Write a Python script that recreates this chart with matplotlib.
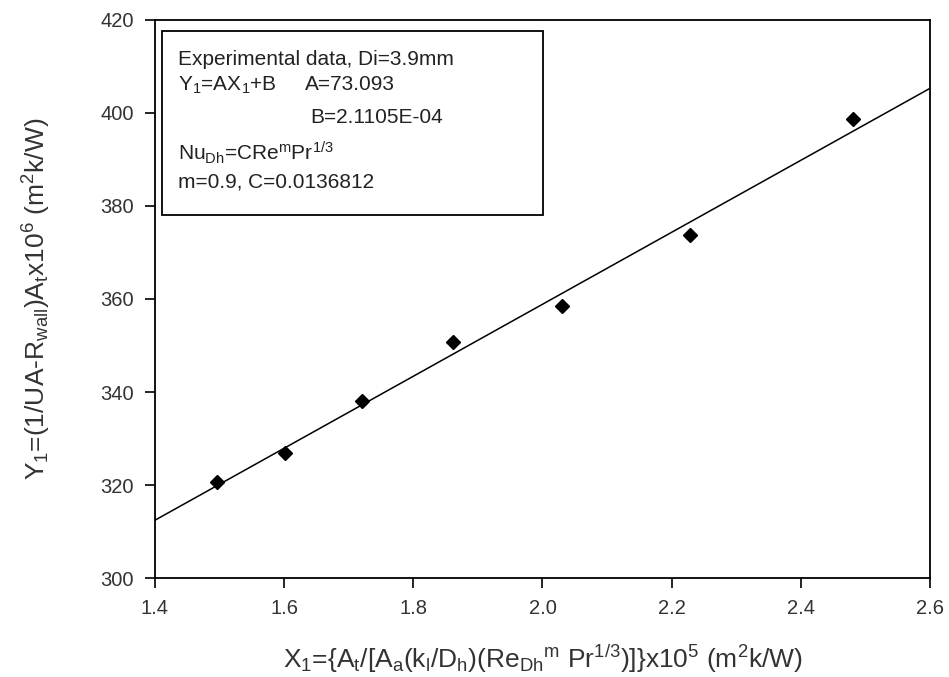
import numpy as np
import matplotlib
matplotlib.use("Agg")
import matplotlib.pyplot as plt
from matplotlib.patches import Rectangle

plt.rcParams['font.family'] = ['Liberation Sans', 'DejaVu Sans']
plt.rcParams['mathtext.fontset'] = 'custom'
plt.rcParams['mathtext.rm'] = 'Liberation Sans'
plt.rcParams['mathtext.it'] = 'Liberation Sans'
plt.rcParams['mathtext.default'] = 'regular'

# experimental points
x1 = [1.496, 1.601, 1.721, 1.862, 2.030, 2.229, 2.480]
y1 = [320.7, 326.8, 338.0, 350.7, 358.6, 373.7, 398.6]

xticks = [1.4, 1.6, 1.8, 2.0, 2.2, 2.4, 2.6]
yticks = [300, 320, 340, 360, 380, 400, 420]

box_lines = [
    "Experimental data, Di=3.9mm",
    "Y$_1$=AX$_1$+B",
    "",
    "Nu$_{Dh}$=CRe$^m$Pr$^{1/3}$",
    "m=0.9, C=0.0136812",
]
coef_lines = ["A=73.093", "B=2.1105E-04"]

fig = plt.figure(figsize=(9.49, 6.77), dpi=100)
ax = fig.add_axes([0.1633, 0.1462, 0.8167, 0.8243])

# linear regression line over the full x range
k, b = np.polyfit(x1, y1, 1)
xl = np.array([xticks[0], xticks[-1]])
ax.plot(xl, k * xl + b, color='black', lw=1.1)
ax.plot(x1, y1, 'D', color='black', ms=7.5, mec='black')

ax.set_xlim(xticks[0], xticks[-1])
ax.set_ylim(yticks[0], yticks[-1])
ax.set_xticks(xticks)
ax.set_xticklabels([f"{v:.1f}" for v in xticks])
ax.set_yticks(yticks)
ax.tick_params(direction='out', length=7, width=1.2, labelsize=14.5, pad=8,
               colors='black', labelcolor='#333333')
for s in ax.spines.values():
    s.set_linewidth(1.3)

ax.set_xlabel("X$_1$={A$_t$/[A$_a$(k$_l$/D$_h$)(Re$_{Dh}$$^{m}$ Pr$^{1/3}$)]}x10$^5$ (m$^2$k/W)",
              fontsize=19, color='#333333', labelpad=18)
ax.set_ylabel("Y$_1$=(1/UA-R$_{wall}$)A$_t$x10$^6$ (m$^2$k/W)",
              fontsize=19, color='#333333', labelpad=34)

# annotation box
ax.add_patch(Rectangle((0.009, 0.6505), 0.4916, 0.3295, transform=ax.transAxes,
                       fill=False, ec='black', lw=1.3))
ys = [0.930, 0.8835, 0.826, 0.762, 0.7097]
fs = 15
for txt, yy in zip(box_lines, ys):
    if txt:
        ax.text(0.030, yy, txt, transform=ax.transAxes, fontsize=fs,
                va='center', ha='left', color='#222222')
ax.text(0.1935, ys[1], coef_lines[0], transform=ax.transAxes, fontsize=fs,
        va='center', ha='left', color='#222222')
ax.text(0.200, ys[2], coef_lines[1], transform=ax.transAxes, fontsize=fs,
        va='center', ha='left', color='#222222')

fig.savefig("out.png", dpi=100)
